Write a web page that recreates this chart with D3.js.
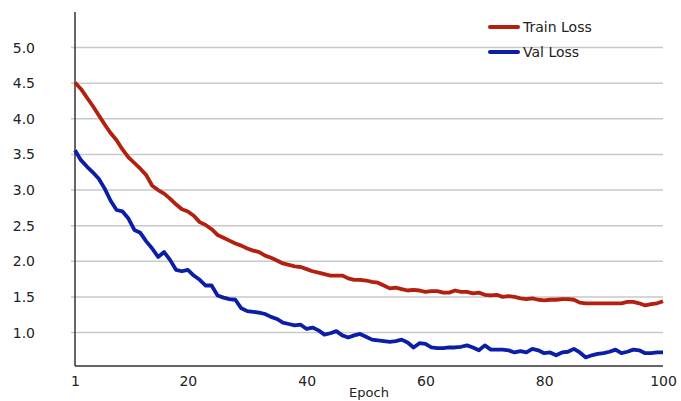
<!DOCTYPE html>
<html>
<head>
<meta charset="utf-8">
<script src="https://cdn.jsdelivr.net/npm/d3@7"></script>
<style>
  body { margin: 0; background: #fff; }
  svg text { font-family: "DejaVu Sans", sans-serif; fill: #222; }
</style>
</head>
<body>
<div id="chart"></div>
<script>
const trainLoss = [4.51, 4.42, 4.30, 4.18, 4.05, 3.92, 3.80, 3.70, 3.57, 3.46,
  3.38, 3.30, 3.21, 3.06, 3.00, 2.95, 2.88, 2.80, 2.73, 2.70,
  2.64, 2.55, 2.51, 2.45, 2.37, 2.33, 2.29, 2.25, 2.22, 2.18,
  2.15, 2.13, 2.08, 2.05, 2.01, 1.97, 1.95, 1.93, 1.92, 1.89,
  1.86, 1.84, 1.82, 1.80, 1.80, 1.80, 1.76, 1.74, 1.74, 1.73,
  1.71, 1.70, 1.66, 1.62, 1.63, 1.61, 1.59, 1.60, 1.59, 1.57,
  1.58, 1.58, 1.56, 1.56, 1.59, 1.57, 1.57, 1.55, 1.56, 1.53,
  1.52, 1.53, 1.50, 1.51, 1.50, 1.48, 1.47, 1.48, 1.46, 1.45,
  1.46, 1.46, 1.47, 1.47, 1.46, 1.42, 1.41, 1.41, 1.41, 1.41,
  1.41, 1.41, 1.41, 1.43, 1.43, 1.41, 1.38, 1.40, 1.41, 1.44];

const valLoss = [3.56, 3.42, 3.33, 3.25, 3.16, 3.02, 2.85, 2.72, 2.70, 2.60,
  2.44, 2.40, 2.28, 2.18, 2.06, 2.13, 2.02, 1.88, 1.86, 1.88,
  1.80, 1.74, 1.66, 1.66, 1.52, 1.49, 1.47, 1.46, 1.34, 1.30,
  1.29, 1.28, 1.26, 1.22, 1.19, 1.14, 1.12, 1.10, 1.11, 1.05,
  1.07, 1.03, 0.97, 0.99, 1.02, 0.96, 0.93, 0.96, 0.98, 0.94,
  0.90, 0.89, 0.88, 0.87, 0.88, 0.90, 0.86, 0.79, 0.85, 0.84,
  0.79, 0.78, 0.78, 0.79, 0.79, 0.80, 0.82, 0.79, 0.75, 0.82,
  0.76, 0.76, 0.76, 0.75, 0.72, 0.74, 0.72, 0.77, 0.75, 0.71,
  0.72, 0.68, 0.72, 0.73, 0.77, 0.72, 0.65, 0.68, 0.70, 0.71,
  0.73, 0.76, 0.71, 0.73, 0.76, 0.75, 0.71, 0.71, 0.72, 0.72];

const epochs = d3.range(1, trainLoss.length + 1);
const xTicks = [1, 20, 40, 60, 80, 100];
const yTicks = [1.0, 1.5, 2.0, 2.5, 3.0, 3.5, 4.0, 4.5, 5.0];
const seriesNames = ['Train Loss', 'Val Loss'];
const seriesColors = ['#b3200f', '#0c1ea6'];

const width = 681, height = 401;
const plotLeft = 75, plotRight = 663, plotTop = 12, plotBottom = 366;

const svg = d3.select('#chart').append('svg')
  .attr('width', width)
  .attr('height', height);

const x = d3.scaleLinear().domain([1, 100]).range([plotLeft, plotRight]);
const y = d3.scaleLinear().domain([0.53, 5.5]).range([plotBottom, plotTop]);

// grid lines
svg.append('g')
  .selectAll('line')
  .data(yTicks)
  .enter().append('line')
  .attr('x1', plotLeft - 4)
  .attr('x2', plotRight)
  .attr('y1', d => y(d))
  .attr('y2', d => y(d))
  .attr('stroke', '#c9c9c9')
  .attr('stroke-width', 1.5);

// y axis
const yAxis = svg.append('g')
  .attr('transform', `translate(${plotLeft}, 0)`)
  .call(d3.axisLeft(y).tickValues(yTicks).tickFormat(d3.format('.1f')).tickSize(0).tickPadding(40));
yAxis.select('.domain').remove();
yAxis.selectAll('text')
  .attr('font-size', 14)
  .attr('font-family', '"DejaVu Sans", sans-serif')
  .attr('fill', '#222');

// x axis
const xAxis = svg.append('g')
  .attr('transform', `translate(0, ${plotBottom})`)
  .call(d3.axisBottom(x).tickValues(xTicks).tickFormat(d3.format('d')).tickSize(0).tickPadding(10));
xAxis.select('.domain').remove();
xAxis.selectAll('text')
  .attr('font-size', 14)
  .attr('font-family', '"DejaVu Sans", sans-serif')
  .attr('fill', '#222');

// axis lines
svg.append('line')
  .attr('x1', plotLeft).attr('x2', plotLeft)
  .attr('y1', plotTop).attr('y2', plotBottom)
  .attr('stroke', '#333').attr('stroke-width', 1.5);
svg.append('line')
  .attr('x1', plotLeft).attr('x2', plotRight)
  .attr('y1', plotBottom).attr('y2', plotBottom)
  .attr('stroke', '#333').attr('stroke-width', 1.5);

svg.append('text')
  .attr('x', (plotLeft + plotRight) / 2)
  .attr('y', 397)
  .attr('text-anchor', 'middle')
  .attr('font-size', 13)
  .text('Epoch');

// lines
const line = d3.line()
  .x((d, i) => x(epochs[i]))
  .y(d => y(d));

[trainLoss, valLoss].forEach((series, i) => {
  svg.append('path')
    .datum(series)
    .attr('d', line)
    .attr('fill', 'none')
    .attr('stroke', seriesColors[i])
    .attr('stroke-width', 3.8)
    .attr('stroke-linejoin', 'round');
});

// legend
const legend = svg.append('g')
  .selectAll('g')
  .data(seriesNames)
  .enter().append('g')
  .attr('transform', (d, i) => `translate(490, ${27 + i * 25})`);
legend.append('line')
  .attr('x1', 0).attr('x2', 28)
  .attr('stroke', (d, i) => seriesColors[i])
  .attr('stroke-width', 4)
  .attr('stroke-linecap', 'round');
legend.append('text')
  .attr('x', 33)
  .attr('y', 5)
  .attr('font-size', 14)
  .text(d => d);
</script>
</body>
</html>
